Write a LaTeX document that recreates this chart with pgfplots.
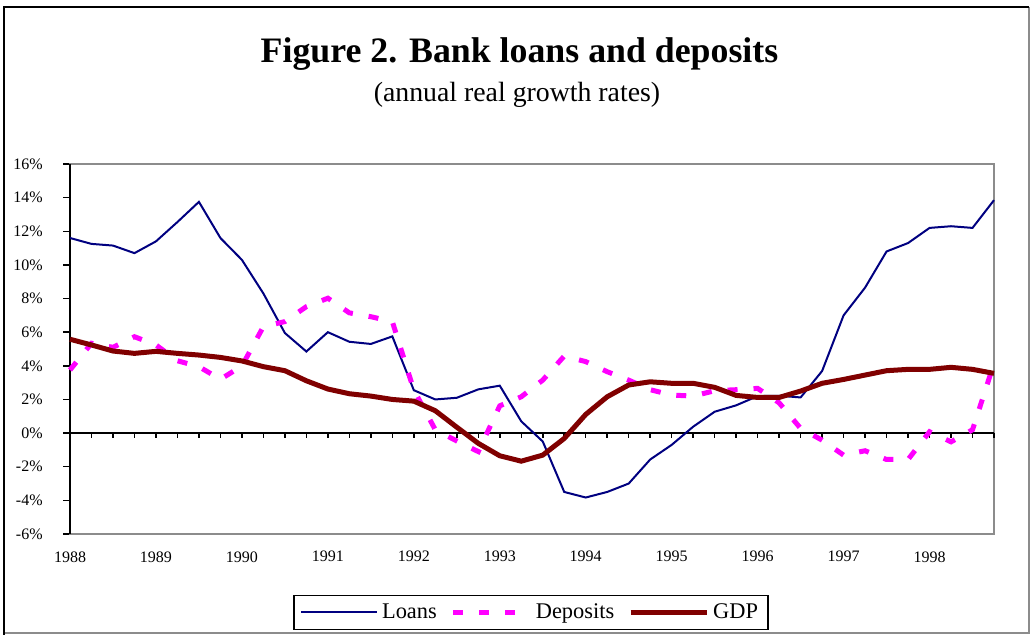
\documentclass[border=0pt]{standalone}
\usepackage{pgfplots}
\pgfplotsset{compat=1.18}
\usepackage{pgfplotstable}
\usepackage{fontspec}
\setmainfont{Liberation Serif}
\definecolor{loancol}{HTML}{000080}
\definecolor{depcol}{HTML}{FF00FF}
\definecolor{gdpcol}{HTML}{800000}
\definecolor{boxgray}{HTML}{8C8C8C}
\pgfplotstableread{
q loans deposits gdp
0 11.6 3.75 5.58
1 11.25 5.34 5.24
2 11.15 5.1 4.88
3 10.7 5.73 4.74
4 11.4 5.24 4.86
5 12.55 4.3 4.74
6 13.75 3.95 4.64
7 11.6 3.2 4.5
8 10.3 3.99 4.29
9 8.3 6.33 3.95
10 5.95 6.63 3.71
11 4.85 7.52 3.11
12 6.0 8.02 2.62
13 5.43 7.15 2.34
14 5.3 6.92 2.2
15 5.75 6.63 2.0
16 2.55 2.56 1.9
17 2.0 0.2 1.33
18 2.1 -0.47 0.35
19 2.6 -1.1 -0.61
20 2.82 1.62 -1.35
21 0.7 2.16 -1.67
22 -0.5 3.15 -1.31
23 -3.5 4.58 -0.32
24 -3.83 4.25 1.11
25 -3.5 3.65 2.16
26 -3.0 3.15 2.86
27 -1.57 2.58 3.05
28 -0.7 2.26 2.96
29 0.38 2.2 2.96
30 1.27 2.52 2.72
31 1.65 2.58 2.24
32 2.2 2.66 2.12
33 2.22 1.8 2.12
34 2.12 0.28 2.5
35 3.69 -0.42 2.96
36 7.0 -1.31 3.19
37 8.65 -1.05 3.45
38 10.8 -1.57 3.71
39 11.3 -1.57 3.79
40 12.2 0.08 3.79
41 12.3 -0.52 3.91
42 12.2 0.2 3.79
43 13.85 4.15 3.55
}\datatable
\begin{document}
\begin{tikzpicture}
\useasboundingbox (0pt,0pt) rectangle (516pt,-317.5pt);
% chart frame
\draw[boxgray, line width=1pt] (514.5pt,-3.5pt) -- (514.5pt,-316.5pt) -- (2pt,-316.5pt);
\draw[black, line width=1.2pt] (2pt,-317.5pt) -- (2pt,-3.5pt) -- (514.5pt,-3.5pt);
% titles
\node[anchor=base, font=\bfseries\fontsize{17.9pt}{20pt}\selectfont, inner sep=0pt] at (259.75pt,-31.5pt) {Figure 2. Bank loans and deposits};
\node[anchor=base, font=\fontsize{13.9pt}{16pt}\selectfont, inner sep=0pt] at (258.5pt,-51pt) {(annual real growth rates)};
\begin{axis}[
  at={(35pt,-267pt)}, anchor=south west,
  width=462pt, height=185pt, scale only axis,
  xmin=0, xmax=43, ymin=-6, ymax=16,
  clip=false,
  axis line style={boxgray, line width=1pt},
  xtick={0,4,...,40},
  xticklabels={1988,1989,1990,1991,1992,1993,1994,1995,1996,1997,1998},
  xtick style={draw=none},
  ytick={-6,-4,...,16},
  yticklabel={\pgfmathprintnumber{\tick}\%},
  ytick pos=left,
  ytick style={black, line width=0.75pt},
  major tick length=3.5pt,
  tick align=outside,
  /pgf/number format/assume math mode=true,
  tick label style={font=\fontsize{8pt}{9pt}\selectfont, inner sep=0pt},
  xticklabel style={anchor=north},
  xticklabel shift=5pt,
  yticklabel shift=10pt,
  legend columns=3,
  legend style={at={(0.499,-0.212)}, anchor=center, draw=black, line width=0.8pt,
    font=\fontsize{11.2pt}{13pt}\selectfont, inner xsep=3pt, inner ysep=2pt,
    /tikz/every even column/.append style={column sep=5pt}},
  legend image code/.code={\draw[#1, line width=\pgflinewidth] (0pt,0pt) -- (38pt,0pt);},
]
\draw[black, line width=1pt] (axis cs:0,0) -- (axis cs:43,0);
\pgfplotsinvokeforeach{0,...,43}{\draw[black, line width=0.75pt] (axis cs:#1,0) -- ++(0pt,-2.5pt);}
\draw[black, line width=1pt] (rel axis cs:0,0) -- (rel axis cs:0,1);
\addplot[loancol, line width=1pt] table[x=q, y=loans] {\datatable};
\addlegendentry{Loans}
\addplot[depcol, line width=2.5pt, dash pattern=on 5pt off 8pt] table[x=q, y=deposits] {\datatable};
\addlegendentry{Deposits}
\addplot[gdpcol, line width=2.5pt] table[x=q, y=gdp] {\datatable};
\addlegendentry{GDP}
\end{axis}
\end{tikzpicture}
\end{document}
